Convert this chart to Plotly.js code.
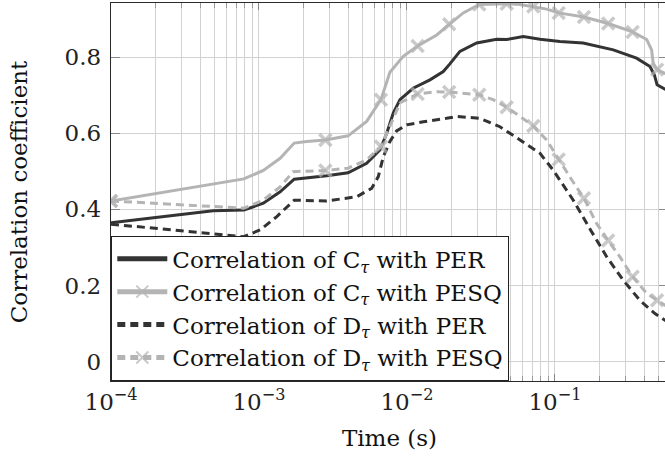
<!DOCTYPE html>
<html><head><meta charset="utf-8">
<script src="https://cdn.plot.ly/plotly-3.0.1.min.js"></script>
<style>html,body{margin:0;padding:0;overflow:hidden;background:#fff}#plot{width:680px;height:462px}</style>
</head><body><div id="plot"></div>
<script>
// Series: Correlation of C_tau with PER (dark solid)
const cPerX = [1e-4, 4.9e-4, 7.9e-4, 1.07e-3, 1.39e-3, 1.73e-3, 2.87e-3, 4.0e-3, 5.34e-3, 6.57e-3, 7.3e-3, 8.08e-3, 8.97e-3, 0.0110, 0.0143, 0.0176, 0.0195, 0.0228, 0.0296, 0.0404, 0.0472, 0.0611, 0.0793, 0.108, 0.155, 0.248, 0.356, 0.439, 0.470, 0.490, 0.553, 0.6];
const cPerY = [0.365, 0.396, 0.398, 0.416, 0.446, 0.479, 0.488, 0.496, 0.521, 0.556, 0.600, 0.653, 0.688, 0.718, 0.740, 0.762, 0.782, 0.815, 0.837, 0.847, 0.846, 0.854, 0.847, 0.841, 0.837, 0.819, 0.797, 0.775, 0.753, 0.727, 0.716, 0.712];
// Series: Correlation of C_tau with PESQ (light solid, x marks)
const cPesqX = [1e-4, 7.9e-4, 1.07e-3, 1.39e-3, 1.73e-3, 2.10e-3, 2.81e-3, 4.0e-3, 5.34e-3, 6.67e-3, 7.67e-3, 9.44e-3, 0.0118, 0.0159, 0.0193, 0.0240, 0.0308, 0.0383, 0.0472, 0.0581, 0.0714, 0.0879, 0.106, 0.157, 0.229, 0.335, 0.417, 0.450, 0.461, 0.49, 0.553, 0.6];
const cPesqY = [0.422, 0.480, 0.502, 0.534, 0.574, 0.578, 0.582, 0.593, 0.631, 0.688, 0.760, 0.802, 0.829, 0.858, 0.886, 0.916, 0.938, 0.940, 0.940, 0.938, 0.933, 0.926, 0.916, 0.905, 0.888, 0.866, 0.846, 0.819, 0.784, 0.767, 0.757, 0.755];
// Series: Correlation of D_tau with PER (dark dashed)
const dPerX = [1e-4, 7.9e-4, 1.02e-3, 1.32e-3, 1.73e-3, 2.87e-3, 4.57e-3, 5.77e-3, 6.40e-3, 6.92e-3, 7.67e-3, 8.51e-3, 9.95e-3, 0.0129, 0.0185, 0.0217, 0.0311, 0.0425, 0.0581, 0.0793, 0.0973, 0.133, 0.174, 0.224, 0.289, 0.375, 0.474, 0.553, 0.6];
const dPerY = [0.361, 0.328, 0.346, 0.381, 0.424, 0.422, 0.433, 0.455, 0.486, 0.538, 0.578, 0.606, 0.622, 0.630, 0.639, 0.644, 0.639, 0.617, 0.582, 0.547, 0.503, 0.424, 0.346, 0.275, 0.214, 0.161, 0.126, 0.109, 0.100];
// Series: Correlation of D_tau with PESQ (light dashed, x marks)
const dPesqX = [1e-4, 7.9e-4, 1.07e-3, 1.39e-3, 1.70e-3, 2.81e-3, 4.0e-3, 5.34e-3, 6.67e-3, 7.67e-3, 9.0e-3, 0.0118, 0.0159, 0.0193, 0.0308, 0.0383, 0.0472, 0.0581, 0.0714, 0.0879, 0.106, 0.130, 0.157, 0.191, 0.229, 0.275, 0.335, 0.417, 0.49, 0.553, 0.6];
const dPesqY = [0.422, 0.403, 0.424, 0.459, 0.499, 0.502, 0.508, 0.530, 0.565, 0.617, 0.680, 0.703, 0.709, 0.708, 0.701, 0.688, 0.668, 0.644, 0.619, 0.582, 0.531, 0.477, 0.429, 0.363, 0.318, 0.275, 0.223, 0.179, 0.161, 0.148, 0.140];
// Times at which the x marks are drawn
const markX = [1e-4, 2.81e-3, 6.67e-3, 0.0118, 0.0193, 0.0308, 0.0472, 0.0714, 0.106, 0.157, 0.229, 0.335, 0.49];

const seriesNames = ['Correlation of C<sub><i>τ</i></sub> with PER', 'Correlation of C<sub><i>τ</i></sub> with PESQ', 'Correlation of D<sub><i>τ</i></sub> with PER', 'Correlation of D<sub><i>τ</i></sub> with PESQ'];
const xDecades = [1e-4, 1e-3, 1e-2, 1e-1];
const xTickLabels = ['10<sup>−4</sup>', '10<sup>−3</sup>', '10<sup>−2</sup>', '10<sup>−1</sup>'];
const yTicks = [0, 0.2, 0.4, 0.6, 0.8];
const yTickLabels = ['0', '0.2', '0.4', '0.6', '0.8'];

const DARK = '#333333', LIGHT = '#b4b4b4', GRID = '#d2d2d2';
const FONT = 'DejaVu Serif, serif';

function markSizes(xs) { return xs.map(v => markX.some(m => Math.abs(m - v) / m < 1e-6) ? 12 : 0); }

const minorX = [];
xDecades.forEach(d => { for (let k = 2; k <= 9; k++) minorX.push(k * d); });

const traces = [
  {x: cPerX, y: cPerY, name: seriesNames[0], mode: 'lines', line: {color: DARK, width: 3}},
  {x: cPesqX, y: cPesqY, name: seriesNames[1], mode: 'lines+markers', line: {color: LIGHT, width: 3},
   marker: {symbol: 'x-thin', size: markSizes(cPesqX), color: LIGHT, line: {color: LIGHT, width: 3.5}}},
  {x: dPerX, y: dPerY, name: seriesNames[2], mode: 'lines', line: {color: DARK, width: 3, dash: '8px,5px'}},
  {x: dPesqX, y: dPesqY, name: seriesNames[3], mode: 'lines+markers', line: {color: LIGHT, width: 3, dash: '8px,5px'},
   marker: {symbol: 'x-thin', size: markSizes(dPesqX), color: LIGHT, line: {color: LIGHT, width: 3.5}}}
];

const layout = {
  width: 680, height: 462,
  margin: {l: 111, r: 12, t: 3, b: 81},
  paper_bgcolor: '#fff', plot_bgcolor: '#fff',
  font: {family: FONT, size: 23, color: '#111'},
  showlegend: true,
  legend: {x: 0, y: 0, xanchor: 'left', yanchor: 'bottom', bgcolor: '#fff', bordercolor: '#222', borderwidth: 1.3,
           font: {family: FONT, size: 23, color: '#111'}, itemsizing: 'constant', itemwidth: 50, tracegroupgap: 0},
  xaxis: {
    type: 'log', range: [-4, -0.236],
    tickvals: xDecades, ticktext: xTickLabels,
    ticks: 'inside', ticklen: 7, tickcolor: '#888', tickwidth: 1,
    showgrid: true, gridcolor: GRID, gridwidth: 1,
    minor: {tickvals: minorX, ticks: 'inside', ticklen: 5, tickcolor: '#999', showgrid: true, gridcolor: GRID, gridwidth: 1},
    showline: true, linecolor: '#2a2a2a', linewidth: 1.3, mirror: 'allticks',
    zeroline: false,
    tickfont: {family: FONT, size: 23, color: '#222'},
    title: {text: 'Time (s)', font: {family: FONT, size: 23, color: '#111'}, standoff: 16}
  },
  yaxis: {
    range: [-0.051, 0.942],
    tickvals: yTicks, ticktext: yTickLabels,
    ticks: 'inside', ticklen: 9, tickcolor: '#888', tickwidth: 1,
    showgrid: true, gridcolor: GRID, gridwidth: 1,
    showline: true, linecolor: '#2a2a2a', linewidth: 1.3, mirror: 'allticks',
    zeroline: false, ticklabelstandoff: 4,
    tickfont: {family: FONT, size: 23, color: '#222'},
    title: {text: 'Correlation coefficient', font: {family: FONT, size: 23, color: '#111'}, standoff: 30}
  }
};

Plotly.newPlot('plot', traces, layout, {staticPlot: true, displayModeBar: false});
</script>
</body></html>
